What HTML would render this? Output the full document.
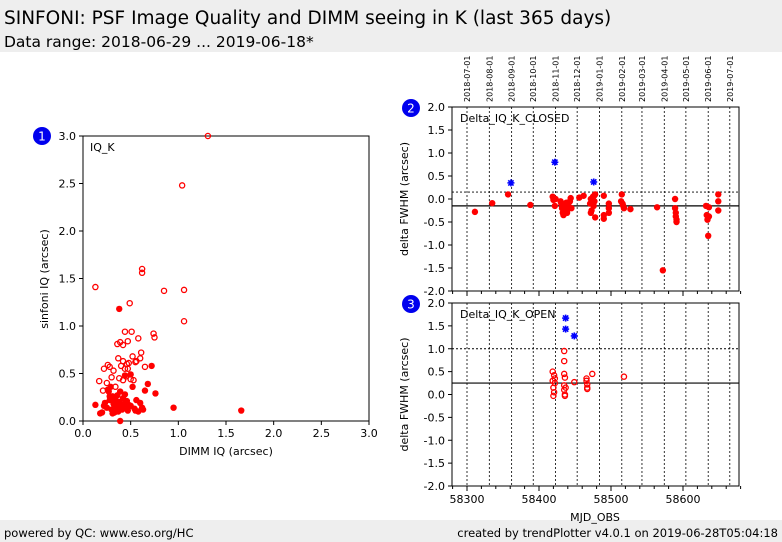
<!DOCTYPE html>
<html><head><meta charset="utf-8">
<style>
body{margin:0;background:#fff;}
svg{display:block;font-family:"DejaVu Sans","Liberation Sans",sans-serif;}
</style></head>
<body>
<svg id="s" width="782" height="542" viewBox="0 0 782 542">
<rect x="0" y="0" width="782" height="52" fill="#eeeeee"/>
<text x="4" y="24" font-size="18.5">SINFONI: PSF Image Quality and DIMM seeing in K (last 365 days)</text>
<text x="4" y="47" font-size="15.5">Data range: 2018-06-29 ... 2019-06-18*</text>
<rect x="0" y="520" width="782" height="22" fill="#eeeeee"/>
<text x="4" y="537" font-size="11.5">powered by QC: www.eso.org/HC</text>
<text x="778" y="537" font-size="11.5" text-anchor="end">created by trendPlotter v4.0.1 on 2019-06-28T05:04:18</text>
<g id="g1"></g>
<g id="g2"></g>
<g id="g3"></g>
</svg>
<script>
// ---------- Data ----------
const scatterTicks = [0, 0.5, 1.0, 1.5, 2.0, 2.5, 3.0];
const openDimm = [1.31,1.04,0.62,0.62,0.13,0.85,1.06,0.49,1.06,0.74,0.75,0.44,0.51,0.39,0.42,0.36,0.47,0.58,0.61,0.26,0.37,0.42,0.46,0.52,0.56,0.60,0.22,0.28,0.32,0.40,0.44,0.48,0.55,0.65,0.30,0.38,0.45,0.50,0.53,0.42,0.17,0.25,0.34,0.21,0.47];
const openSinf = [3.0,2.48,1.60,1.56,1.41,1.37,1.38,1.24,1.05,0.92,0.88,0.94,0.94,0.83,0.80,0.81,0.84,0.87,0.72,0.59,0.66,0.63,0.60,0.68,0.63,0.66,0.55,0.57,0.53,0.58,0.55,0.61,0.62,0.57,0.46,0.45,0.47,0.44,0.43,0.43,0.42,0.40,0.36,0.32,0.55];
const closedDimm = [0.38,0.95,1.66,0.13,0.20,0.23,0.25,0.27,0.28,0.30,0.31,0.32,0.33,0.34,0.35,0.36,0.37,0.38,0.39,0.40,0.41,0.42,0.43,0.44,0.45,0.46,0.47,0.48,0.50,0.52,0.54,0.56,0.58,0.60,0.62,0.65,0.68,0.72,0.76,0.28,0.31,0.35,0.40,0.44,0.33,0.36,0.42,0.29,0.26,0.50,0.22,0.18,0.55,0.63,0.39];
const closedSinf = [1.18,0.14,0.11,0.17,0.09,0.19,0.14,0.31,0.22,0.12,0.26,0.18,0.09,0.22,0.15,0.27,0.10,0.20,0.31,0.16,0.12,0.24,0.18,0.28,0.14,0.21,0.11,0.17,0.16,0.36,0.13,0.22,0.10,0.19,0.14,0.32,0.39,0.58,0.29,0.26,0.08,0.17,0.13,0.48,0.24,0.20,0.15,0.36,0.33,0.49,0.16,0.08,0.11,0.12,0.00];

const mjdTicks = [58300, 58400, 58500, 58600];
const deltaTicks = [-2.0,-1.5,-1.0,-0.5,0.0,0.5,1.0,1.5,2.0];
const monthLabels = ["2018-07-01","2018-08-01","2018-09-01","2018-10-01","2018-11-01","2018-12-01","2019-01-01","2019-02-01","2019-03-01","2019-04-01","2019-05-01","2019-06-01","2019-07-01"];
const monthMjd = [58300,58331,58362,58392,58423,58453,58484,58515,58543,58574,58604,58635,58665];

const closedMjd = [58311,58335,58357,58388,58419,58420,58422,58423,58430,58431,58432,58433,58434,58435,58436,58437,58438,58439,58440,58441,58443,58444,58445,58456,58462,58471,58472,58473,58474,58475,58476,58477,58478,58478,58477,58472,58490,58490,58490,58497,58497,58497,58514,58515,58516,58517,58518,58527,58564,58572,58589,58589,58590,58590,58591,58591,58632,58633,58634,58635,58636,58636,58649,58649,58649];
const closedDelta = [-0.28,-0.09,0.10,-0.13,0.05,-0.02,-0.15,0.00,-0.05,-0.10,-0.20,-0.30,-0.35,-0.12,-0.25,-0.18,-0.08,-0.30,-0.22,-0.15,-0.05,0.02,-0.20,0.03,0.07,-0.10,0.00,-0.25,-0.05,0.05,-0.15,0.08,-0.40,0.10,-0.05,-0.30,0.07,-0.35,-0.43,-0.10,-0.20,-0.30,-0.05,0.10,-0.10,-0.15,-0.20,-0.22,-0.18,-1.55,0.00,-0.20,-0.30,-0.38,-0.45,-0.50,-0.15,-0.35,-0.45,-0.80,-0.18,-0.38,0.10,-0.05,-0.25];
const closedOutMjd = [58361, 58422, 58476];
const closedOutDelta = [0.35, 0.80, 0.37];
const closedRef = [0.15, -0.15];

const openMjd = [58419,58419,58420,58420,58421,58421,58422,58422,58435,58435,58435,58435,58435,58436,58436,58436,58437,58449,58466,58466,58467,58467,58467,58474,58518];
const openDelta = [0.50,0.30,0.15,-0.03,0.05,0.42,0.35,0.25,0.95,0.73,0.45,0.20,0.10,0.37,0.00,-0.03,0.15,0.27,0.35,0.30,0.22,0.12,0.15,0.45,0.39];
const openOutMjd = [58437, 58437, 58449];
const openOutDelta = [1.67, 1.43, 1.28];
const openRef = [1.0, 0.25];

// ---------- helpers ----------
const NS = "http://www.w3.org/2000/svg";
function mk(parent, tag, attrs, text){
  const e = document.createElementNS(NS, tag);
  for (const k in attrs) e.setAttribute(k, attrs[k]);
  if (text !== undefined) e.textContent = text;
  parent.appendChild(e);
  return e;
}
function badge(parent, cx, cy, n){
  const c = mk(parent,'circle',{cx:cx,cy:cy,r:9,fill:'#0000ee'});
  
  
  const t = mk(parent,'text',{x:cx,y:cy+4.5,'font-size':12,fill:'#fff','text-anchor':'middle'},String(n));
  
  
}
function star(parent, x, y){
  const g = mk(parent,'g',{stroke:'#0000ff','stroke-width':1.6});
  
  
  const r=3.5;
  mk(g,'line',{x1:x-r,y1:y,x2:x+r,y2:y});
  mk(g,'line',{x1:x,y1:y-r,x2:x,y2:y+r});
  mk(g,'line',{x1:x-r*0.75,y1:y-r*0.75,x2:x+r*0.75,y2:y+r*0.75});
  mk(g,'line',{x1:x-r*0.75,y1:y+r*0.75,x2:x+r*0.75,y2:y-r*0.75});
}

// ---------- Panel 1 ----------
(function(){
  const g = document.getElementById('g1');
  const L=83,R=369,T=136,B=421;
  const sx = v => L + (v/3)*(R-L);
  const sy = v => B - (v/3)*(B-T);
  badge(g,42,136,1);
  const fr = mk(g,'rect',{x:L,y:T,width:R-L,height:B-T,fill:'none',stroke:'#000','stroke-width':1});
  
  
  scatterTicks.forEach(v=>{
    mk(g,'line',{x1:sx(v),y1:B,x2:sx(v),y2:B+4,stroke:'#000'});
    const t=mk(g,'text',{x:sx(v),y:B+16,'font-size':11,'text-anchor':'middle'},v.toFixed(1));
    
    
    mk(g,'line',{x1:L-4,y1:sy(v),x2:L,y2:sy(v),stroke:'#000'});
    const u=mk(g,'text',{x:L-7,y:sy(v)+4,'font-size':11,'text-anchor':'end'},v.toFixed(1));
    
    
  });
  const xt=mk(g,'text',{x:226,y:455,'font-size':11,'text-anchor':'middle'},'DIMM IQ (arcsec)');
  
  
  const yt=mk(g,'text',{x:48,y:279,'font-size':11,'text-anchor':'middle',transform:'rotate(-90 48 279)'},'sinfoni IQ (arcsec)');
  
  
  const lb=mk(g,'text',{x:90,y:151,'font-size':11},'IQ_K');
  
  
  openDimm.forEach((d,i)=>{
    const c=mk(g,'circle',{cx:sx(d),cy:sy(openSinf[i]),r:2.6,fill:'none',stroke:'#ff0000','stroke-width':1.3});
    
    
  });
  closedDimm.forEach((d,i)=>{
    const c=mk(g,'circle',{cx:sx(d),cy:sy(closedSinf[i]),r:3.2,fill:'#ff0000'});
    
    
  });
})();

// ---------- delta panels ----------
function deltaPanel(g, T, B, num, label, mjd, dl, filled, outM, outD, refs, showMonths, showXLabels){
  const L=452,R=739;
  const sx = m => 467 + (m-58300)*0.72;
  const sy = v => (T+B)/2 - v*(B-T)/4;
  badge(g,411,T+1,num);
  monthMjd.forEach((m,i)=>{
    const gl=mk(g,'line',{x1:sx(m),y1:T,x2:sx(m),y2:B,stroke:'#000','stroke-width':0.8,'stroke-dasharray':'2,2'});
    
    
    if(showMonths){
      const x=sx(m)+3, y=102;
      const t=mk(g,'text',{x:x,y:y,'font-size':8,transform:`rotate(-90 ${x} ${y})`},monthLabels[i]);
      
      
    }
  });
  const r0=mk(g,'line',{x1:L,y1:sy(refs[0]),x2:R,y2:sy(refs[0]),stroke:'#000','stroke-width':0.9,'stroke-dasharray':'2,2'});
  
  
  const r1=mk(g,'line',{x1:L,y1:sy(refs[1]),x2:R,y2:sy(refs[1]),stroke:'#000','stroke-width':1.2});
  
  
  const fr=mk(g,'rect',{x:L,y:T,width:R-L,height:B-T,fill:'none',stroke:'#000','stroke-width':1});
  
  
  deltaTicks.forEach(v=>{
    mk(g,'line',{x1:L-4,y1:sy(v),x2:L,y2:sy(v),stroke:'#000'});
    const t=mk(g,'text',{x:L-7,y:sy(v)+4,'font-size':11,'text-anchor':'end'},v.toFixed(1));
    
    
  });
  for(let m=58280;m<=58680;m+=20){
    const major = mjdTicks.indexOf(m)>=0;
    mk(g,'line',{x1:sx(m),y1:B,x2:sx(m),y2:B+(major?5:3),stroke:'#000'});
  }
  if(showXLabels){
    mjdTicks.forEach(m=>{
      const t=mk(g,'text',{x:sx(m),y:B+17,'font-size':11,'text-anchor':'middle'},String(m));
      
      
    });
  }
  const yc=(T+B)/2;
  const yt=mk(g,'text',{x:408,y:yc,'font-size':11,'text-anchor':'middle',transform:`rotate(-90 408 ${yc})`},'delta FWHM (arcsec)');
  
  
  const lb=mk(g,'text',{x:460,y:T+15,'font-size':11},label);
  
  
  mjd.forEach((m,i)=>{
    const c = filled
      ? mk(g,'circle',{cx:sx(m),cy:sy(dl[i]),r:3.2,fill:'#ff0000'})
      : mk(g,'circle',{cx:sx(m),cy:sy(dl[i]),r:2.6,fill:'none',stroke:'#ff0000','stroke-width':1.3});
    
    
  });
  outM.forEach((m,i)=>star(g,sx(m),sy(outD[i])));
}
deltaPanel(document.getElementById('g2'),107,291,2,'Delta_IQ_K_CLOSED',closedMjd,closedDelta,true,closedOutMjd,closedOutDelta,closedRef,true,false);
deltaPanel(document.getElementById('g3'),303,486,3,'Delta_IQ_K_OPEN',openMjd,openDelta,false,openOutMjd,openOutDelta,openRef,false,true);
(function(){
  const t=mk(document.getElementById('g3'),'text',{x:595,y:521,'font-size':11,'text-anchor':'middle'},'MJD_OBS');
  
  
})();
</script>
</body></html>
